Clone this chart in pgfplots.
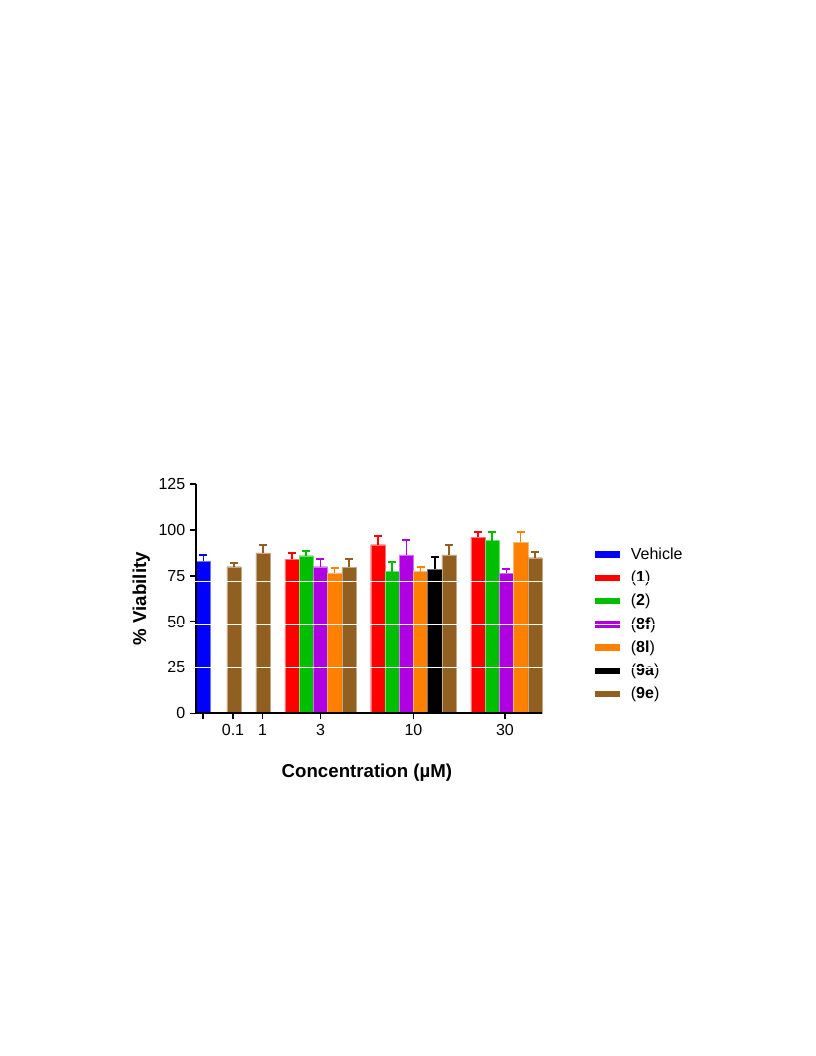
\documentclass[border=0pt]{standalone}
\usepackage{pgfplots}
\pgfplotsset{compat=1.18}
\usepackage{fontspec}
\setmainfont{Liberation Sans}
\definecolor{cBlue}{RGB}{0,0,255}
\definecolor{cRed}{RGB}{255,0,0}
\definecolor{cGreen}{RGB}{0,190,0}
\definecolor{cPurple}{RGB}{175,0,225}
\definecolor{cOrange}{RGB}{255,128,0}
\definecolor{cBlack}{RGB}{0,0,0}
\definecolor{cBrown}{RGB}{145,95,32}
\pgfplotsset{
  mybar/.style={fill=#1, draw=#1!55!white, line width=0.3pt,
    error bars/error bar style={draw=#1, line width=1.2pt},
    error bars/error mark options={draw=#1, rotate=90, mark size=3pt, line width=1.5pt}},
}
\begin{document}
\begin{tikzpicture}
\useasboundingbox (0,0) rectangle (612pt,792pt);
\begin{axis}[
  at={(147pt,257pt)}, anchor=south west,
  scale only axis, width=259.5pt, height=172pt,
  xmin=0, xmax=24.3, ymin=0, ymax=125,
  ybar, bar shift=0pt, bar width=1,
  axis on top,
  axis x line*=bottom, axis y line*=left,
  axis line style={line width=1.3pt, -},
  ytick={0,25,50,75,100,125},
  xtick={0.5,2.6,4.68,8.74,15.27,21.7},
  xticklabels={{},0.1,1,3,10,30},
  tick style={line width=1.2pt, black},
  tick align=outside, major tick length=4.5pt,
  /pgf/number format/assume math mode=true,
  tick label style={font=\fontsize{12}{14}\selectfont},
  xlabel={\textbf{Concentration (µM)}},
  ylabel={\textbf{\% Viability}},
  label style={font=\fontsize{14}{16}\selectfont},
  xlabel style={at={(axis description cs:0.494,-0.257)}, anchor=center},
  ylabel style={at={(axis description cs:-0.158,0.5)}, anchor=center},
  error bars/y dir=plus, error bars/y explicit,
  legend style={at={(axis description cs:1.153,0.734)}, anchor=north west,
    draw=none, fill=none, inner sep=0pt, font=\fontsize{12}{14}\selectfont,
    row sep=3.2pt, /tikz/every odd column/.append style={column sep=6pt}},
  legend cell align=left,
  legend image code/.code={\fill[#1,draw=none] (0pt,-2.5pt) rectangle (18.75pt,2.5pt);},
  clip=false,
]
\addplot[mybar=cBlue] coordinates {(0.52,83.0) +- (0,3.4)};
\addplot[mybar=cRed] coordinates {(6.74,83.9) +- (0,3.5) (12.77,91.9) +- (0,4.9) (19.8,95.9) +- (0,2.9)};
\addplot[mybar=cGreen] coordinates {(7.74,85.9) +- (0,2.5) (13.77,77.2) +- (0,5.1) (20.8,94.1) +- (0,4.7)};
\addplot[mybar=cPurple] coordinates {(8.74,79.9) +- (0,4.4) (14.77,86.3) +- (0,8.0) (21.8,76.3) +- (0,2.5)};
\addplot[mybar=cOrange] coordinates {(9.74,76.5) +- (0,2.9) (15.77,77.2) +- (0,2.5) (22.8,93.2) +- (0,5.4)};
\addplot[mybar=cBlack] coordinates {(16.77,78.5) +- (0,6.5)};
\addplot[mybar=cBrown] coordinates {(2.66,79.9) +- (0,2.0) (4.70,87.5) +- (0,4.4) (10.74,79.6) +- (0,4.3) (17.77,86.3) +- (0,5.2) (23.8,84.8) +- (0,3.3)};
\legend{Vehicle,(\textbf{1}),(\textbf{2}),(\textbf{8f}),(\textbf{8l}),(\textbf{9a}),(\textbf{9e})}
\end{axis}
\foreach \yy in {356.25,323.6,291.5} {\draw[white, line width=0.7pt] (112pt,\yy pt) -- (560pt,\yy pt);}
\end{tikzpicture}
\end{document}
